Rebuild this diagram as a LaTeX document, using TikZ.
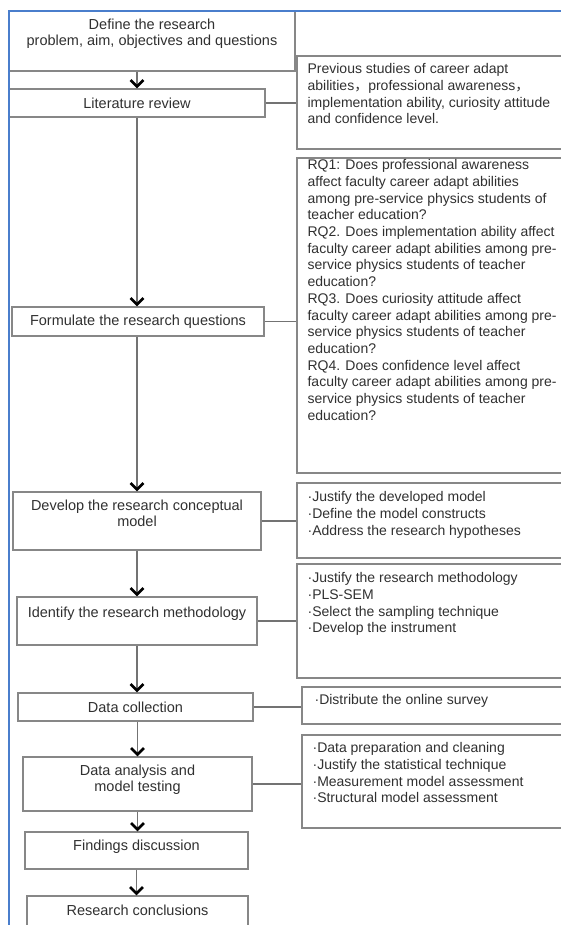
\documentclass[tikz,border=0pt]{standalone}
\usepackage{fontspec}
\setmainfont{Liberation Sans}
\newfontfamily\cjkfont{Noto Sans CJK SC}
\usetikzlibrary{arrows.meta,positioning}

\definecolor{framecol}{RGB}{74,126,204}
\definecolor{boxcol}{RGB}{135,135,135}
\definecolor{linecol}{RGB}{115,115,115}
\definecolor{txtcol}{RGB}{48,48,48}

\tikzset{
  stage/.style={draw=boxcol, line width=1.2pt, inner sep=0pt, text=txtcol,
    font=\fontsize{14.5}{16.5}\selectfont, align=center},
  note/.style={draw=boxcol, line width=1.2pt, inner sep=0pt},
  ltext/.style={text=txtcol, font=\fontsize{14.5}{16.5}\selectfont, align=center, inner sep=0pt},
  rtext/.style={text=txtcol, font=\fontsize{14}{16.7}\selectfont, align=left, inner sep=0pt},
  link/.style={draw=linecol, line width=1.3pt},
  flow/.style={link, -{Straight Barb[color=black, length=6.5pt, width=13pt, line width=2.6pt]}},
}

\begin{document}
\begin{tikzpicture}[x=1pt, y=-1pt]
\useasboundingbox (0,0) rectangle (561,925);

% main stages
\node[stage, minimum width=286pt, minimum height=60pt] (def) at (152,41) {};
\node[ltext, below=8pt of def.north] (deft) {Define the research\\problem, aim, objectives and questions};
\node[stage, minimum width=256pt, minimum height=28pt] (lit) at (137,103) {Literature review};
\node[stage, minimum width=252pt, minimum height=29pt] (form) at (138,321.5) {Formulate the research questions};
\node[stage, minimum width=248pt, minimum height=58pt] (dev) at (137,521) {};
\node[ltext, below=8pt of dev.north] (devt) {Develop the research conceptual\\model};
\node[stage, minimum width=240pt, minimum height=48pt] (ident) at (137,621) {};
\node[ltext, below=10pt of ident.north] (identt) {Identify the research methodology};
\node[stage, minimum width=235pt, minimum height=28pt] (dcol) at (135.5,707) {Data collection};
\node[stage, minimum width=229pt, minimum height=54pt] (ana) at (137.5,784) {};
\node[ltext, below=8pt of ana.north] (anat) {Data analysis and\\model testing};
\node[stage, minimum width=223pt, minimum height=37pt] (find) at (136.5,850.5) {};
\node[ltext, below=8pt of find.north] (findt) {Findings discussion};
\node[stage, minimum width=221pt, minimum height=40pt] (conc) at (137.5,916) {};
\node[ltext, below=9pt of conc.north] (conct) {Research conclusions};

% side notes
\node[note, minimum width=278pt, minimum height=93pt] (prev) at (436,102.5) {};
\node[rtext, below right=8pt and 11pt of prev.north west] (prevt)
  {Previous studies of career adapt\\
   abilities{\cjkfont ，}professional awareness{\cjkfont ，}\\
   implementation ability, curiosity attitude\\
   and confidence level.};
\node[note, minimum width=278pt, minimum height=315pt] (rq) at (436,315.5) {};
\node[rtext, below right=2pt and 11pt of rq.north west] (rqt)
  {RQ1: Does professional awareness\\
   affect faculty career adapt abilities\\
   among pre-service physics students of\\
   teacher education?\\
   RQ2. Does implementation ability affect\\
   faculty career adapt abilities among pre-\\
   service physics students of teacher\\
   education?\\
   RQ3. Does curiosity attitude affect\\
   faculty career adapt abilities among pre-\\
   service physics students of teacher\\
   education?\\
   RQ4. Does confidence level affect\\
   faculty career adapt abilities among pre-\\
   service physics students of teacher\\
   education?};
\node[note, minimum width=278pt, minimum height=75pt] (model) at (436,520.5) {};
\node[rtext, below right=9pt and 11pt of model.north west] (modelt)
  {·Justify the developed model\\
   ·Define the model constructs\\
   ·Address the research hypotheses};
\node[note, minimum width=278pt, minimum height=114pt] (meth) at (436,621) {};
\node[rtext, below right=9pt and 11pt of meth.north west] (metht)
  {·Justify the research methodology\\
   ·PLS-SEM\\
   ·Select the sampling technique\\
   ·Develop the instrument};
\node[note, minimum width=273pt, minimum height=37pt] (surv) at (438.5,705.5) {};
\node[rtext, below right=8pt and 13pt of surv.north west] (survt)
  {·Distribute the online survey};
\node[note, minimum width=273pt, minimum height=93pt] (test) at (438.5,781.5) {};
\node[rtext, below right=8pt and 11pt of test.north west] (testt)
  {·Data preparation and cleaning\\
   ·Justify the statistical technique\\
   ·Measurement model assessment\\
   ·Structural model assessment};

% flow down the middle
\draw[flow] (lit.north |- def.south) -- (lit.north);
\draw[flow] (lit.south) -- (lit.south |- form.north);
\draw[flow] (dev.north |- form.south) -- (dev.north);
\draw[flow] (dev.south) -- (dev.south |- ident.north);
\draw[flow] (ident.south) -- (ident.south |- dcol.north);
\draw[flow] (ana.north |- dcol.south) -- (ana.north);
\draw[flow] (ana.south) -- (ana.south |- find.north);
\draw[flow] (find.south) -- (find.south |- conc.north);

% links to the notes
\draw[link] (lit.east) -- (lit.east -| prev.west);
\draw[link] (form.east) -- (form.east -| rq.west);
\draw[link] (dev.east) -- (dev.east -| model.west);
\draw[link] (ident.east) -- (ident.east -| meth.west);
\draw[link] (dcol.east) -- (dcol.east -| surv.west);
\draw[link] (ana.east) -- (ana.east -| test.west);

% frame
\draw[framecol, line width=2pt] (9,935) -- (9,11) -- (570,11);
\end{tikzpicture}
\end{document}
